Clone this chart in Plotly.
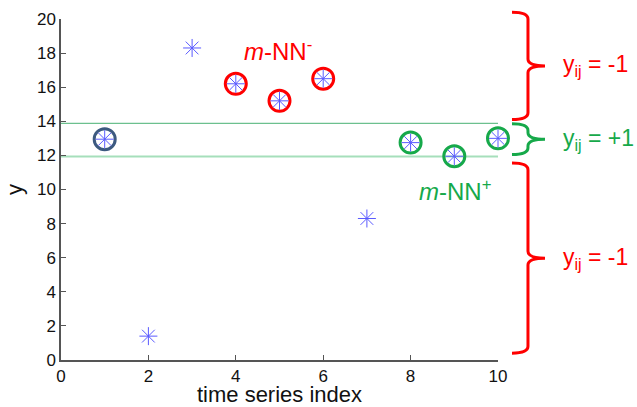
import plotly.graph_objects as go

# ---- data ----
idx = [1, 2, 3, 4, 5, 6, 7, 8, 9, 10]
yvals = [12.95, 1.4, 18.3, 16.2, 15.2, 16.5, 8.3, 12.75, 11.95, 13.0]
query_idx = [1]
neg_idx = [4, 5, 6]
pos_idx = [8, 9, 10]
band_upper = 13.88
band_lower = 11.93
x_range = [0, 10]
y_range = [0, 20]
x_ticks = [0, 2, 4, 6, 8, 10]
y_ticks = [0, 2, 4, 6, 8, 10, 12, 14, 16, 18, 20]
# brace extents in data y (top, bottom) and labels
brace_spans = [(20.4, 14.1), (13.85, 12.05), (11.55, 0.4)]
brace_labels = ["y<sub>ij</sub> = -1", "y<sub>ij</sub> = +1", "y<sub>ij</sub> = -1"]
brace_colors = ["#ff0000", "#16a94a", "#ff0000"]

RED = "#ff0000"
GREEN = "#16a94a"
DARK = "#3d5a80"
FONT = "Liberation Sans, Arial"

def yv(i):
    return yvals[idx.index(i)]

fig = go.Figure()

# horizontal band lines
fig.add_trace(go.Scatter(x=x_range, y=[band_upper, band_upper], mode="lines",
                         line=dict(color="#6cc08e", width=1.3), showlegend=False, hoverinfo="skip"))
fig.add_trace(go.Scatter(x=x_range, y=[band_lower, band_lower], mode="lines",
                         line=dict(color="#a6dfbb", width=2), showlegend=False, hoverinfo="skip"))

# circles
def circles(ids, color):
    fig.add_trace(go.Scatter(x=ids, y=[yv(i) for i in ids], mode="markers",
                             marker=dict(symbol="circle-open", size=21, color=color,
                                         line=dict(color=color, width=3)),
                             showlegend=False, hoverinfo="skip", cliponaxis=False))

circles(query_idx, DARK)
circles(neg_idx, RED)
circles(pos_idx, GREEN)

# asterisk points
fig.add_trace(go.Scatter(x=idx, y=yvals, mode="markers",
                         marker=dict(symbol="asterisk-open", size=15, color="rgb(90,90,255)",
                                     line=dict(color="rgb(90,90,255)", width=1)),
                         showlegend=False, cliponaxis=False))

# text labels
fig.add_annotation(x=4.97, y=18.2, xref="x", yref="y", text="<i>m</i>-NN<sup>-</sup>",
                   showarrow=False, font=dict(family=FONT, size=24, color=RED))
fig.add_annotation(x=9.02, y=10.0, xref="x", yref="y", text="<i>m</i>-NN<sup>+</sup>",
                   showarrow=False, font=dict(family=FONT, size=24, color=GREEN))

# braces (outside plot area, drawn in paper coords derived from the data axis)
def frac(v):
    return (v - y_range[0]) / (y_range[1] - y_range[0])

x0, x1, x2 = 1.032, 1.0686, 1.1076
dy = 0.02
for (top, bot), lab, col in zip(brace_spans, brace_labels, brace_colors):
    t, b = frac(top), frac(bot)
    m = (t + b) / 2
    path = (f"M {x0},{t} Q {x1},{t} {x1},{t - dy} L {x1},{m + dy} "
            f"Q {x1},{m} {x2},{m} Q {x1},{m} {x1},{m - dy} "
            f"L {x1},{b + dy} Q {x1},{b} {x0},{b}")
    fig.add_shape(type="path", path=path, xref="paper", yref="paper",
                  line=dict(color=col, width=3))
    fig.add_annotation(x=1.145, y=m, xref="paper", yref="paper", text=lab,
                       xanchor="left", yanchor="middle", showarrow=False,
                       font=dict(family=FONT, size=23, color=col))

axis_common = dict(showline=True, linecolor="#555", linewidth=1.5, ticks="inside",
                   ticklen=5, tickcolor="#555", showgrid=False, zeroline=False, automargin=False,
                   tickfont=dict(family=FONT, size=17, color="#111"))

fig.update_layout(
    width=637, height=407,
    margin=dict(l=61, r=139, t=19, b=47, autoexpand=False),
    paper_bgcolor="white", plot_bgcolor="white",
    xaxis=dict(range=x_range, tickvals=x_ticks, title=dict(text="time series index", standoff=0,
               font=dict(family=FONT, size=22, color="#111")), **axis_common),
    yaxis=dict(range=y_range, tickvals=y_ticks, title=dict(text="y", standoff=8,
               font=dict(family=FONT, size=22, color="#111")), **axis_common),
)

fig.write_html("out.html", config={"displayModeBar": False},
               post_script="document.body.style.margin='0';document.body.style.overflow='hidden';")
